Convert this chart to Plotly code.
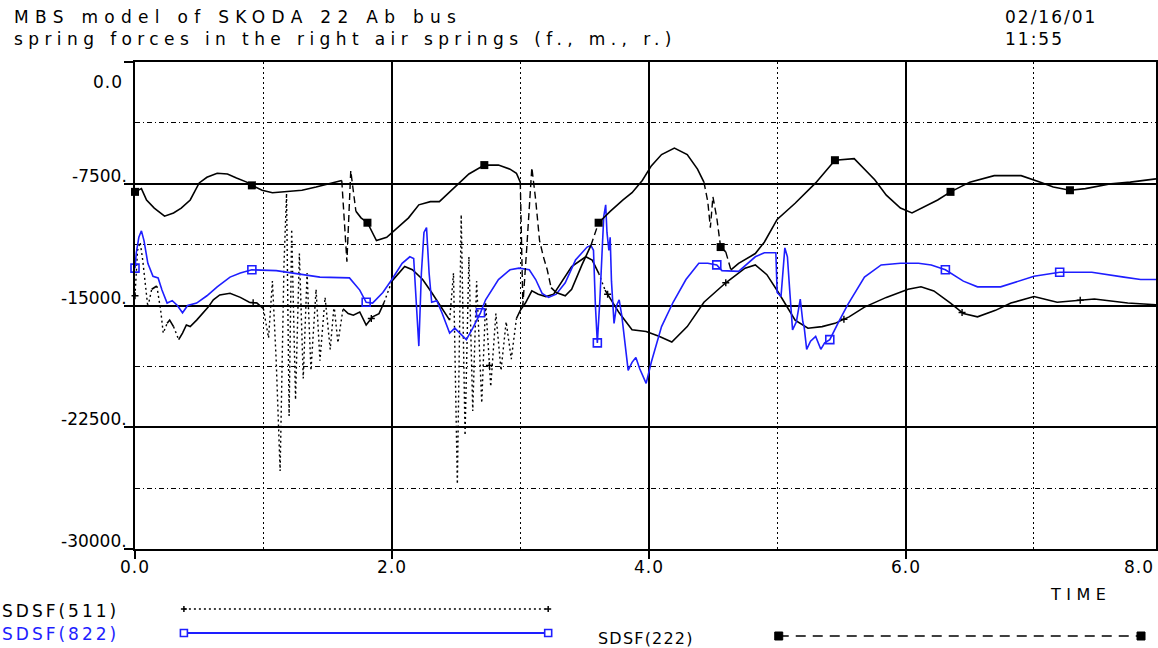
import numpy as np
import plotly.graph_objects as go

# ---------------- data ----------------
T_511 = [0.00, 0.02, 0.04, 0.06, 0.10, 0.13, 0.17, 0.20, 0.22, 0.25, 0.27, 0.30, 0.34, 0.37, 0.40,
         0.43, 0.48, 0.53, 0.57, 0.61, 0.66, 0.74, 0.82, 0.89, 0.95, 1.00, 1.04, 1.07, 1.10, 1.13,
         1.16, 1.18, 1.20, 1.22, 1.25, 1.28, 1.31, 1.34, 1.37, 1.41, 1.44, 1.48, 1.52, 1.55, 1.58,
         1.62, 1.66, 1.70, 1.75, 1.80, 1.85, 1.90, 1.94, 2.00, 2.10, 2.16, 2.24, 2.31, 2.39, 2.45,
         2.48, 2.51, 2.54, 2.57, 2.60, 2.63, 2.66, 2.70, 2.73, 2.77, 2.81, 2.85, 2.89, 2.93, 2.97,
         3.00, 3.04, 3.09, 3.14, 3.20, 3.26, 3.32, 3.40, 3.51, 3.56, 3.61, 3.66, 3.77, 3.87, 3.98,
         4.08, 4.18, 4.30, 4.43, 4.60, 4.75, 4.83, 4.92, 5.01, 5.14, 5.24, 5.35, 5.45, 5.56, 5.68,
         5.85, 6.02, 6.12, 6.22, 6.35, 6.45, 6.56, 6.70, 6.82, 7.00, 7.18, 7.47, 7.73, 7.95]
V_511 = [-14400, -11600, -11100, -12200, -15100, -14000, -13800, -15300, -16700, -16100, -15900, -16300, -17100, -16700, -16200,
         -16300, -15900, -15450, -15100, -14650, -14350, -14250, -14500, -14800, -14850, -15200, -17000, -13500, -18500, -25200,
         -12500, -8100, -21800, -10300, -20800, -11800, -19500, -13000, -19000, -14000, -18400, -14500, -17700, -15000, -17300,
         -15200, -15500, -15600, -15400, -16200, -15700, -15500, -14800, -13500, -12600, -12800, -13400, -14200, -15200, -15900,
         -13000, -26000, -9400, -23000, -12000, -21500, -13500, -21000, -14800, -20000, -15500, -19000, -16000, -18300, -15800,
         -15300, -14850, -14100, -14300, -14450, -14300, -13550, -12600, -12000, -12200, -13000, -14050, -15450, -16500, -16600,
         -16900, -17250, -16300, -14800, -13600, -12700, -12500, -13100, -14200, -15900, -16400, -16300, -16100, -15700, -15100,
         -14500, -14000, -13850, -14100, -14850, -15500, -15700, -15300, -14850, -14450, -14800, -14600, -14850, -14950]

T_822 = [0.00, 0.01, 0.03, 0.05, 0.07, 0.10, 0.14, 0.18, 0.21, 0.25, 0.29, 0.33, 0.37, 0.41, 0.48,
         0.56, 0.64, 0.74, 0.82, 0.91, 1.10, 1.34, 1.44, 1.67, 1.75, 1.80, 1.85, 1.93, 2.00, 2.08,
         2.14, 2.17, 2.19, 2.21, 2.23, 2.25, 2.27, 2.29, 2.31, 2.35, 2.39, 2.45, 2.49, 2.53, 2.58,
         2.63, 2.69, 2.73, 2.83, 2.92, 2.99, 3.07, 3.12, 3.17, 3.22, 3.28, 3.35, 3.43, 3.52, 3.55,
         3.57, 3.585, 3.60, 3.62, 3.635, 3.65, 3.665, 3.675, 3.69, 3.70, 3.71, 3.73, 3.75, 3.77, 3.79,
         3.81, 3.84, 3.87, 3.90, 3.93, 3.96, 3.98, 4.02, 4.10, 4.19, 4.29, 4.39, 4.46, 4.53, 4.57,
         4.70, 4.83, 4.90, 4.99, 5.00, 5.03, 5.06, 5.08, 5.10, 5.12, 5.15, 5.18, 5.20, 5.21, 5.23,
         5.26, 5.30, 5.34, 5.37, 5.41, 5.48, 5.55, 5.68, 5.81, 5.96, 6.10, 6.20, 6.31, 6.45, 6.56,
         6.74, 7.00, 7.20, 7.45, 7.70, 7.83, 7.95]
V_822 = [-12700, -11750, -10800, -10400, -11000, -12400, -13200, -13300, -14050, -14850, -14700, -15000, -15450, -15000, -14850,
         -14400, -13850, -13250, -13000, -12800, -12850, -13100, -13250, -13300, -14050, -14800, -14850, -14200, -13400, -12400,
         -12000, -12100, -14500, -17500, -13000, -10500, -10200, -13000, -14800, -14700, -15450, -16700, -16400, -16700, -17100,
         -16400, -15450, -14650, -13400, -12800, -12700, -12800, -13400, -14250, -14500, -14300, -13600, -12200, -11400, -11300,
         -11600, -15000, -17300, -14600, -11600, -9500, -8800, -10500, -11600, -10800, -13500, -16100, -15000, -14650, -15600,
         -16900, -19000, -18500, -18200, -18900, -19500, -19800, -18500, -16300, -14800, -13400, -12400, -12400, -12500, -12850,
         -12900, -12000, -11750, -11750, -14200, -14450, -11450, -12000, -14300, -16500, -16000, -14600, -16000, -16300, -17700,
         -17200, -16900, -17700, -17300, -17100, -16000, -14950, -13250, -12500, -12400, -12400, -12500, -12800, -13500, -13850,
         -13850, -13200, -12950, -12950, -13250, -13400, -13400]

T_222 = [0.00, 0.05, 0.09, 0.15, 0.23, 0.30, 0.36, 0.43, 0.50, 0.56, 0.64, 0.72, 0.79, 0.87, 0.91,
         0.99, 1.07, 1.18, 1.30, 1.41, 1.54, 1.61, 1.65, 1.68, 1.72, 1.76, 1.81, 1.88, 1.96, 2.03,
         2.13, 2.21, 2.30, 2.37, 2.45, 2.52, 2.60, 2.72, 2.83, 2.92, 2.97, 3.00, 3.02, 3.05, 3.09,
         3.12, 3.15, 3.18, 3.21, 3.24, 3.28, 3.35, 3.40, 3.48, 3.55, 3.61, 3.70, 3.80, 3.87, 3.95,
         4.02, 4.10, 4.20, 4.30, 4.38, 4.43, 4.46, 4.48, 4.50, 4.53, 4.56, 4.60, 4.64, 4.70, 4.83,
         4.90, 5.00, 5.14, 5.30, 5.45, 5.60, 5.76, 5.85, 5.96, 6.05, 6.15, 6.25, 6.35, 6.50, 6.69,
         6.90, 7.05, 7.15, 7.28, 7.40, 7.60, 7.75, 7.95]
V_222 = [-8000, -7800, -8500, -9000, -9500, -9300, -9000, -8500, -7450, -7100, -6850, -6900, -7150, -7400, -7600,
         -7900, -8050, -8000, -7900, -7700, -7450, -7300, -12300, -6700, -9200, -9600, -9900, -11000, -10800, -10300,
         -9600, -8800, -8600, -8600, -8000, -7450, -6900, -6350, -6350, -6600, -6850, -7400, -15000, -11500, -6500,
         -8500, -11000, -12000, -12800, -13900, -14200, -14400, -14000, -12500, -11300, -9900, -9200, -8500, -8050, -7300,
         -6400, -5700, -5300, -5700, -6600, -7400, -8600, -10200, -8300, -9600, -11400, -11700, -12800, -12400, -11800,
         -11100, -9700, -8700, -7450, -6050, -5950, -7250, -8200, -9000, -9300, -8900, -8500, -8000, -7400, -7000,
         -7000, -7400, -7700, -7900, -7800, -7500, -7400, -7200]

# x positions of the symbols drawn on each curve
MARK_X_511 = [0.0, 0.92, 1.84, 2.76, 3.68, 4.60, 5.52, 6.44, 7.36]
MARK_X_822 = [0.0, 0.91, 1.80, 2.69, 3.60, 4.53, 5.41, 6.31, 7.20]
MARK_X_222 = [0.0, 0.91, 1.81, 2.72, 3.61, 4.56, 5.45, 6.35, 7.28]

NAMES = ["SDSF(511)", "SDSF(822)", "SDSF(222)"]
Y_TICKS = [0, -7500, -15000, -22500, -30000]
Y_TICK_TEXT = ["0.0", "-7500.", "-15000.", "-22500.", "-30000."]
X_TICKS = [0, 2, 4, 6, 8]
X_TICK_TEXT = ["0.0", "2.0", "4.0", "6.0", "8.0"]
TITLE_1 = "MBS model of SKODA 22 Ab bus"
TITLE_2 = "spring forces in the right air springs (f., m., r.)"
DATE_TXT = "02/16/01"
TIME_TXT = "11:55"
X_TITLE = "TIME"

# ---------------- layout constants ----------------
W, H = 1158, 648
L, R, T, B = 135, 0, 62, 99
XR = [0, 7.95]
YR = [-30000, 0]
PW, PH = W - L - R, H - T - B
BLUE = "#1e1eff"
BLACK = "#000000"
FONT = "DejaVu Sans"

px_per_x = PW / (XR[1] - XR[0])
px_per_y = PH / (YR[1] - YR[0])


def pxx(px):
    return (px - L) / PW


def pxy(py):
    return (H - B - py) / PH


def spaced(text, sp):
    return f'<span style="letter-spacing:{sp}px">{text}</span>'


def split_steep(xs, ys, ratio=2.5, min_dy=8):
    """Split a curve into gentle segments and steep segments (in screen px)."""
    sx, sy, px_, py_ = [], [], [], []
    for i in range(len(xs) - 1):
        dxp = abs(xs[i + 1] - xs[i]) * px_per_x
        dyp = abs(ys[i + 1] - ys[i]) * px_per_y
        steep = dyp > ratio * dxp and dyp > min_dy
        tx, ty = (px_, py_) if steep else (sx, sy)
        if tx and tx[-1] == xs[i]:
            tx.append(xs[i + 1]); ty.append(ys[i + 1])
        else:
            if tx:
                tx.append(None); ty.append(None)
            tx += [xs[i], xs[i + 1]]; ty += [ys[i], ys[i + 1]]
    return sx, sy, px_, py_


fig = go.Figure()

series = [
    (T_511, V_511, BLACK, "2px,3px", MARK_X_511, dict(symbol="cross-thin", size=5, color=BLACK, line=dict(width=1.4, color=BLACK))),
    (T_822, V_822, BLUE, None, MARK_X_822, dict(symbol="square-open", size=8, color=BLUE, line=dict(width=1.6, color=BLUE))),
    (T_222, V_222, BLACK, "7px,4px", MARK_X_222, dict(symbol="square", size=8, color=BLACK)),
]

for (tx, vy, col, dash, mx, mk), name in zip(series, NAMES):
    if dash is None:
        fig.add_trace(go.Scatter(x=tx, y=vy, mode="lines", name=name,
                                 line=dict(color=col, width=1.6), showlegend=False))
    else:
        sx, sy, stx, sty = split_steep(tx, vy)
        fig.add_trace(go.Scatter(x=sx, y=sy, mode="lines", name=name,
                                 line=dict(color=col, width=1.6), showlegend=False))
        fig.add_trace(go.Scatter(x=stx, y=sty, mode="lines", name=name,
                                 line=dict(color=col, width=1.4, dash=dash), showlegend=False))
    my = np.interp(mx, tx, vy)
    fig.add_trace(go.Scatter(x=mx, y=my, mode="markers", name=name, marker=mk,
                             showlegend=False, cliponaxis=False))

fig.update_layout(
    width=W, height=H,
    margin=dict(l=L, r=R, t=T, b=B),
    paper_bgcolor="white", plot_bgcolor="white",
    font=dict(family=FONT, size=16, color=BLACK),
    showlegend=False,
)

fig.update_xaxes(
    range=XR, showline=True, linecolor=BLACK, linewidth=1.6, mirror=True,
    tickmode="array", tickvals=X_TICKS, showticklabels=False,
    ticks="outside", ticklen=8, tickcolor=BLACK, tickwidth=1.5,
    showgrid=True, gridcolor=BLACK, gridwidth=1.5,
    minor=dict(tickmode="linear", tick0=0, dtick=1, showgrid=True, gridcolor=BLACK,
               gridwidth=1.2, griddash="2px,3px", ticks=""),
    zeroline=False,
)
fig.update_yaxes(
    range=YR, showline=True, linecolor=BLACK, linewidth=1.6, mirror=True,
    tickmode="array", tickvals=Y_TICKS, showticklabels=False,
    ticks="outside", ticklen=9, tickcolor=BLACK, tickwidth=1.5,
    showgrid=True, gridcolor=BLACK, gridwidth=1.5,
    minor=dict(tickmode="linear", tick0=0, dtick=3750, showgrid=True, gridcolor=BLACK,
               gridwidth=1.2, griddash="5px,3px,1px,3px", ticks=""),
    zeroline=False,
)

ann = []
# y tick labels
for v, t in zip(Y_TICKS, Y_TICK_TEXT):
    if v == 0:
        ann.append(dict(x=pxx(125), y=v, xref="paper", yref="y", text=spaced(t, 1), showarrow=False,
                        xanchor="right", align="right", yanchor="top", yshift=-8, font=dict(size=17)))
    else:
        ann.append(dict(x=pxx(129), y=v, xref="paper", yref="y", text=t, showarrow=False,
                        xanchor="right", align="right", yanchor="bottom", yshift=-4, font=dict(size=17)))
# x tick labels
for v, t in zip(X_TICKS, X_TICK_TEXT):
    xp = (v - XR[0]) / (XR[1] - XR[0])
    if xp > 0.99:
        ann.append(dict(x=1.0, y=pxy(567), xref="paper", yref="paper", text=spaced(t, 1), showarrow=False,
                        xanchor="right", align="right", yanchor="middle", font=dict(size=17)))
    else:
        ann.append(dict(x=xp, y=pxy(567), xref="paper", yref="paper", text=spaced(t, 1), showarrow=False,
                        xanchor="center", yanchor="middle", font=dict(size=17)))
ann.append(dict(x=pxx(1050), y=pxy(594), xref="paper", yref="paper", text=spaced(X_TITLE, 5.5), showarrow=False,
                xanchor="left", align="left", yanchor="middle", font=dict(size=16)))
# titles
ann.append(dict(x=pxx(12), y=pxy(17), xref="paper", yref="paper", text=spaced(TITLE_1, 6.3), showarrow=False,
                xanchor="left", align="left", yanchor="middle", font=dict(size=17)))
ann.append(dict(x=pxx(12), y=pxy(39), xref="paper", yref="paper", text=spaced(TITLE_2, 5.4), showarrow=False,
                xanchor="left", align="left", yanchor="middle", font=dict(size=17)))
ann.append(dict(x=pxx(1005), y=pxy(17), xref="paper", yref="paper", text=spaced(DATE_TXT, 2), showarrow=False,
                xanchor="left", align="left", yanchor="middle", font=dict(size=17)))
ann.append(dict(x=pxx(1005), y=pxy(39), xref="paper", yref="paper", text=spaced(TIME_TXT, 2), showarrow=False,
                xanchor="left", align="left", yanchor="middle", font=dict(size=17)))

# legend (drawn by hand, like the original plotter output)
leg = [
    (NAMES[0], BLACK, 0, 611, 17, 3),
    (NAMES[1], BLUE, 0, 634, 17, 3),
    (NAMES[2], BLACK, 597, 638, 16, 1.2),
]
for name, col, tx0, ty, fs, sp in leg:
    ann.append(dict(x=pxx(tx0), y=pxy(ty), xref="paper", yref="paper", text=spaced(name, sp), showarrow=False,
                    xanchor="left", align="left", yanchor="middle", font=dict(size=fs, color=col)))

shapes = []
# 511 sample: dotted with small crosses
shapes.append(dict(type="line", xref="paper", yref="paper", x0=pxx(184), x1=pxx(549), y0=pxy(609), y1=pxy(609),
                   line=dict(color=BLACK, width=1.4, dash="2px,3px")))
for cx in (184, 549):
    shapes.append(dict(type="line", xref="paper", yref="paper", x0=pxx(cx - 3), x1=pxx(cx + 3), y0=pxy(609), y1=pxy(609),
                       line=dict(color=BLACK, width=1.5)))
    shapes.append(dict(type="line", xref="paper", yref="paper", x0=pxx(cx), x1=pxx(cx), y0=pxy(606), y1=pxy(612),
                       line=dict(color=BLACK, width=1.5)))
# 822 sample: solid blue with open squares
shapes.append(dict(type="line", xref="paper", yref="paper", x0=pxx(184), x1=pxx(549), y0=pxy(633), y1=pxy(633),
                   line=dict(color=BLUE, width=1.8)))
for cx in (184, 549):
    shapes.append(dict(type="rect", xref="paper", yref="paper", x0=pxx(cx - 3.5), x1=pxx(cx + 3.5),
                       y0=pxy(629.5), y1=pxy(636.5), line=dict(color=BLUE, width=1.6), fillcolor="white"))
# 222 sample: dashed with filled squares
shapes.append(dict(type="line", xref="paper", yref="paper", x0=pxx(780), x1=pxx(1143), y0=pxy(636), y1=pxy(636),
                   line=dict(color=BLACK, width=1.6, dash="10px,7px")))
for cx in (780, 1143):
    shapes.append(dict(type="rect", xref="paper", yref="paper", x0=pxx(cx - 4), x1=pxx(cx + 4),
                       y0=pxy(632), y1=pxy(640), line=dict(color=BLACK, width=1), fillcolor=BLACK))

fig.update_layout(annotations=ann, shapes=shapes)

# the page body has a default 8px margin; remove it so the figure fills the window exactly
fig.write_html("out.html", config={"displayModeBar": False},
               post_script="document.body.style.margin='0px';")
